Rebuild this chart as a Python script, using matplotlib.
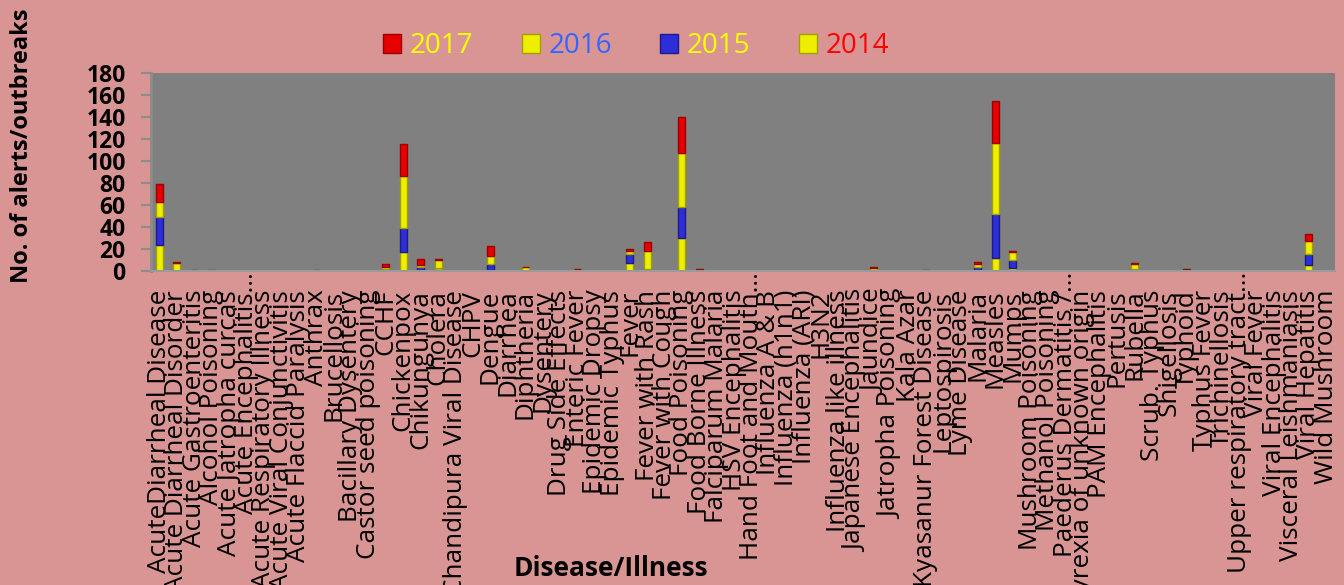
import matplotlib
matplotlib.use("Agg")
import matplotlib.pyplot as plt
import numpy as np
from matplotlib.patches import Patch
from matplotlib.transforms import ScaledTranslation

plt.rcParams['font.family'] = ['Open Sans', 'DejaVu Sans']

categories = [
    "AcuteDiarrheal Disease", "Acute Diarrheal Disorder", "Acute Gastroenteritis",
    "Alcohol Poisoning", "Acute Jatropha curcas", "Acute Encephalitis…",
    "Acute Respiratory Illness", "Acute Viral Conjunctivitis", "Acute Flaccid Paralysis",
    "Anthrax", "Brucellosis", "Bacillary Dysentery", "Castor seed poisoning", "CCHF",
    "Chickenpox", "Chikungunya", "Cholera", "Chandipura Viral Disease", "CHPV",
    "Dengue", "Diarrhea", "Diphtheria", "Dysentery", "Drug Side Effects",
    "Enteric Fever", "Epidemic Dropsy", "Epidemic Typhus", "Fever", "Fever with Rash",
    "Fever with Cough", "Food Poisoning", "Food Borne Illness", "Falciparum Malaria",
    "HSV Encephalitis", "Hand Foot and Mouth…", "Influenza A & B", "Influenza (h1n1)",
    "Influenza (ARI)", "H3N2", "Influenza like illness", "Japanese Encephalitis",
    "Jaundice", "Jatropha Poisoning", "Kala Azar", "Kyasanur Forest Disease",
    "Leptospirosis", "Lyme Disease", "Malaria", "Measles", "Mumps",
    "Mushroom Poisoning", "Methanol Poisoning", "Paederus Dermatitis /…",
    "Pyrexia of unknown origin", "PAM Encephalitis", "Pertusis", "Rubella",
    "Scrub. Typhus", "Shigellosis", "Typhoid", "Typhus Fever", "Trichinellosis",
    "Upper respiratory tract…", "Viral Fever", "Viral Encephalitis",
    "Visceral Leishmaniasis", "Viral Hepatitis", "Wild Mushroom",
]

y2014 = [24, 0, 0, 0, 0, 0, 0, 0, 0, 0, 0, 0, 0, 0, 17, 1, 3, 0, 0, 1,
         0, 0, 0, 0, 0, 0, 0, 7, 0, 0, 30, 0, 0, 0, 0, 0, 0, 0, 0, 0,
         0, 0, 0, 0, 0, 0, 0, 0, 12, 3, 0, 0, 0, 0, 0, 0, 0, 0, 0, 0,
         0, 0, 0, 0, 0, 0, 5, 0]
y2015 = [25, 0, 0, 0, 0, 0, 0, 0, 0, 0, 0, 0, 0, 2, 22, 3, 0, 0, 0, 5,
         0, 0, 0, 0, 0, 0, 0, 8, 2, 0, 28, 0, 0, 0, 0, 0, 0, 0, 0, 0,
         0, 0, 0, 0, 0, 0, 0, 4, 40, 7, 0, 0, 0, 0, 0, 0, 2, 0, 0, 0,
         0, 0, 0, 0, 0, 0, 10, 0]
y2016 = [14, 7, 0, 1, 0, 0, 0, 0, 0, 1, 0, 0, 0, 2, 47, 1, 7, 0, 0, 8,
         0, 4, 0, 0, 2, 0, 0, 3, 16, 0, 49, 0, 0, 0, 0, 0, 0, 0, 0, 0,
         0, 3, 0, 0, 0, 0, 0, 2, 64, 7, 0, 0, 0, 0, 0, 0, 4, 0, 0, 0,
         0, 0, 0, 0, 0, 0, 12, 0]
y2017 = [16, 1, 1, 0, 0, 0, 0, 0, 0, 0, 0, 0, 0, 2, 29, 6, 1, 0, 0, 9,
         0, 0, 0, 0, 0, 0, 0, 2, 8, 0, 33, 2, 0, 0, 0, 0, 0, 0, 0, 0,
         0, 1, 0, 0, 1, 0, 0, 2, 38, 1, 0, 0, 0, 0, 0, 0, 1, 0, 0, 2,
         0, 0, 0, 0, 0, 0, 7, 0]

yticks = [0, 20, 40, 60, 80, 100, 120, 140, 160, 180]

RED, RED_E = '#E60000', '#9A0000'
YEL, YEL_E = '#EEEE00', '#A0A000'
BLU, BLU_E = '#2E2ED8', '#1A1A8A'
BG = '#D99594'

fig = plt.figure(figsize=(13.44, 5.85), dpi=100, facecolor=BG)
ax = fig.add_axes([150.7/1344, 1-271/585, (1335-150.7)/1344, (271-72.7)/585])
ax.set_facecolor('#808080')

x = np.arange(len(categories))
w = 0.4
a14 = np.array(y2014, float)
a15 = np.array(y2015, float)
a16 = np.array(y2016, float)
a17 = np.array(y2017, float)
ax.bar(x, a14, w, color=YEL, edgecolor=YEL_E, linewidth=1)
ax.bar(x, a15, w, bottom=a14, color=BLU, edgecolor=BLU_E, linewidth=1)
ax.bar(x, a16, w, bottom=a14+a15, color=YEL, edgecolor=YEL_E, linewidth=1)
ax.bar(x, a17, w, bottom=a14+a15+a16, color=RED, edgecolor=RED_E, linewidth=1)

ax.set_xlim(-0.5, len(categories)-0.5)
ax.set_ylim(0, 180)
ax.set_yticks(yticks)
ax.set_yticklabels([str(v) for v in yticks], fontsize=16.5, fontweight='bold')
ax.set_xticks(x)
ax.set_xticklabels(categories, rotation=90, fontsize=18.8, va='top', ha='center')
ax.tick_params(axis='x', length=0, pad=13.5)
ax.tick_params(axis='y', length=7, width=1.5, color='#8C8C8C', pad=11)
for s in ['top', 'right']:
    ax.spines[s].set_visible(False)
ax.spines['left'].set_color('#8C8C8C')
ax.spines['left'].set_linewidth(2)
ax.spines['bottom'].set_color('#9A9A9A')
ax.spines['bottom'].set_linewidth(1.5)

for lab in ax.get_xticklabels():
    if lab.get_text().endswith('…'):
        lab.set_transform(lab.get_transform() + ScaledTranslation(0, 0.18, fig.dpi_scale_trans))

fig.text(22/1344, 1-146/585, 'No. of alerts/outbreaks', rotation=90, ha='center', va='center',
         fontsize=17, fontweight='bold')
fig.text(611/1344, 1-568/585, 'Disease/Illness', ha='center', va='center',
         fontsize=19, fontweight='bold')

handles = [Patch(facecolor=RED, edgecolor=RED_E), Patch(facecolor=YEL, edgecolor=YEL_E),
           Patch(facecolor=BLU, edgecolor=BLU_E), Patch(facecolor=YEL, edgecolor=YEL_E)]
labels = ['2017', '2016', '2015', '2014']
tcolors = ['#FFFF00', '#3366FF', '#FFFF00', '#FF0000']
leg = fig.legend(handles, labels, loc='center', bbox_to_anchor=(636/1344, 1-46/585), ncol=4,
                 frameon=False, fontsize=20, handlelength=0.65, handleheight=0.65,
                 handletextpad=0.3, columnspacing=1.75)
for t, c in zip(leg.get_texts(), tcolors):
    t.set_color(c)

fig.savefig('out.png', dpi=100, facecolor=BG)
